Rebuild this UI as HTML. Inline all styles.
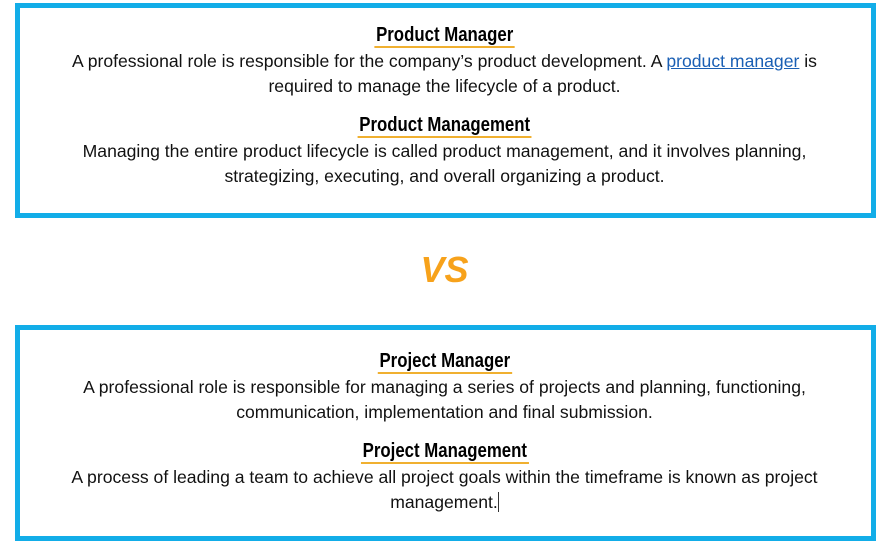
<!DOCTYPE html>
<html><head><meta charset="utf-8"><style>
body{margin:0;width:889px;height:546px;background:#fff;position:relative;overflow:hidden;font-family:"Liberation Sans",sans-serif;}
.box{position:absolute;left:15px;width:851px;border:5px solid #12ade8;}
.l{position:absolute;left:0;width:889px;text-align:center;font-size:17.6px;color:#111;line-height:20px;white-space:nowrap;}
.h{position:absolute;left:0;width:889px;text-align:center;line-height:22px;}
.h span{display:inline-block;font-weight:bold;font-size:20px;color:#000;transform:scaleX(0.84);border-bottom:2px solid #f0b030;line-height:21px;padding:0 2px;}
a{color:#1a5fb4;text-decoration:underline;}
.vs{position:absolute;left:0;width:889px;top:249px;text-align:center;font-size:36px;font-weight:bold;font-style:italic;color:#f7a21b;}
.cur{display:inline-block;width:1px;height:20px;background:#333;vertical-align:-4px;}
</style></head><body>
<div class="box" style="top:3px;height:205px;"></div>
<div class="h" style="top:25px"><span>Product Manager</span></div>
<div class="l" style="top:51px">A professional role is responsible for the company’s product development. A <a>product manager</a> is</div>
<div class="l" style="top:76px">required to manage the lifecycle of a product.</div>
<div class="h" style="top:115px"><span>Product Management</span></div>
<div class="l" style="top:141px">Managing the entire product lifecycle is called product management, and it involves planning,</div>
<div class="l" style="top:166px">strategizing, executing, and overall organizing a product.</div>
<div class="vs">VS</div>
<div class="box" style="top:325px;height:206px;"></div>
<div class="h" style="top:351px"><span>Project Manager</span></div>
<div class="l" style="top:377px">A professional role is responsible for managing a series of projects and planning, functioning,</div>
<div class="l" style="top:402px">communication, implementation and final submission.</div>
<div class="h" style="top:441px"><span>Project Management</span></div>
<div class="l" style="top:467px">A process of leading a team to achieve all project goals within the timeframe is known as project</div>
<div class="l" style="top:492px">management.<span class="cur"></span></div>
</body></html>
